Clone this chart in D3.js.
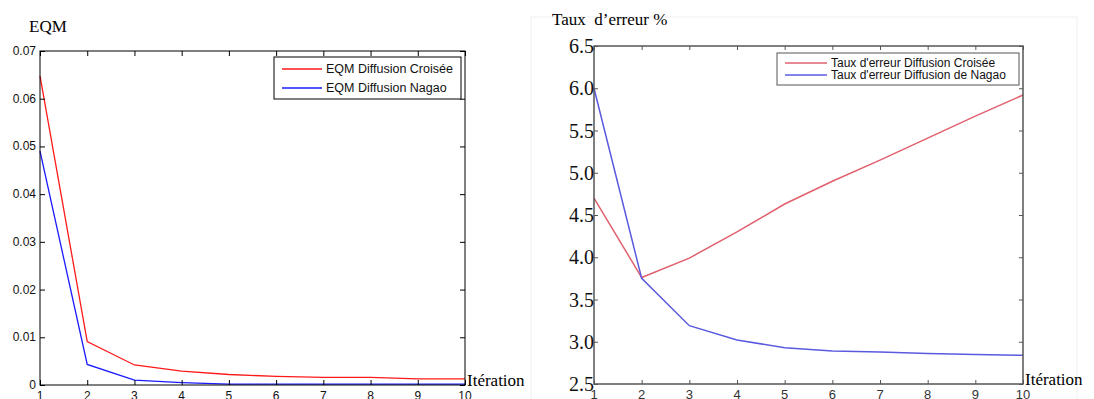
<!DOCTYPE html>
<html>
<head>
<meta charset="utf-8">
<script src="https://cdn.jsdelivr.net/npm/d3@7"></script>
<style>
  body { margin: 0; background: #fff; }
  svg { display: block; }
</style>
</head>
<body>
<div id="chart"></div>
<script>
// iterations shared by both panels
const iterations = [1, 2, 3, 4, 5, 6, 7, 8, 9, 10];

// left panel: EQM
const eqmCroisee = [0.0648, 0.0091, 0.0042, 0.0029, 0.0022, 0.0018, 0.0016, 0.0016, 0.0013, 0.0013];
const eqmNagao = [0.0490, 0.0043, 0.0010, 0.0005, 0.0002, 0.0002, 0.0002, 0.0002, 0.0002, 0.0002];
const eqmTicks = [0, 0.01, 0.02, 0.03, 0.04, 0.05, 0.06, 0.07];
const eqmTickLabels = ['0', '0.01', '0.02', '0.03', '0.04', '0.05', '0.06', '0.07'];

// right panel: taux d'erreur
const tauxCroisee = [4.70, 3.76, 3.99, 4.30, 4.63, 4.90, 5.15, 5.41, 5.67, 5.92];
const tauxNagao = [6.00, 3.75, 3.19, 3.02, 2.93, 2.89, 2.88, 2.86, 2.85, 2.84];
const tauxTicks = [2.5, 3.0, 3.5, 4.0, 4.5, 5.0, 5.5, 6.0, 6.5];
const tauxTickLabels = ['2.5', '3.0', '3.5', '4.0', '4.5', '5.0', '5.5', '6.0', '6.5'];

const W = 1094, H = 399;
const svg = d3.select('#chart').append('svg')
  .attr('width', W)
  .attr('height', H);

const sans = '"Liberation Sans", Arial, sans-serif';
const serif = '"Liberation Serif", "Times New Roman", serif';

function panel(opts) {
  const x = d3.scaleLinear().domain([1, 10]).range([opts.left, opts.right]);
  const y = d3.scaleLinear().domain(opts.yDomain).range([opts.bottom, opts.top]);
  const g = svg.append('g');
  const tk = opts.tickLen;

  // lines first, frame on top
  const line = d3.line().x((d, i) => x(iterations[i])).y(d => y(d));
  opts.series.forEach(s => {
    g.append('path')
      .datum(s.values)
      .attr('fill', 'none')
      .attr('stroke', s.color)
      .attr('stroke-width', s.width)
      .attr('d', line);
  });

  // inward ticks on the four sides, like a matlab box
  const axB = d3.axisBottom(x).tickValues(iterations).tickSize(-tk).tickFormat('');
  const axT = d3.axisTop(x).tickValues(iterations).tickSize(-tk).tickFormat('');
  const axL = d3.axisLeft(y).tickValues(opts.yTicks).tickSize(-tk).tickFormat('');
  const axR = d3.axisRight(y).tickValues(opts.yTicks).tickSize(-tk).tickFormat('');
  [[axB, `translate(0,${opts.bottom})`], [axT, `translate(0,${opts.top})`],
   [axL, `translate(${opts.left},0)`], [axR, `translate(${opts.right},0)`]].forEach(([ax, tr]) => {
    const a = g.append('g').attr('transform', tr).call(ax);
    a.select('.domain').remove();
    a.selectAll('line').attr('stroke', opts.frame);
  });
  g.append('rect')
    .attr('x', opts.left).attr('y', opts.top)
    .attr('width', opts.right - opts.left).attr('height', opts.bottom - opts.top)
    .attr('fill', 'none').attr('stroke', opts.frame).attr('stroke-width', opts.frameWidth);

  // tick labels
  g.selectAll('.ylab').data(opts.yTicks).enter().append('text')
    .attr('x', opts.left + opts.yLabDx)
    .attr('y', d => y(d) + opts.yLabDy)
    .attr('text-anchor', 'end')
    .attr('font-family', opts.yFont)
    .attr('font-size', opts.yFontSize)
    .attr('fill', '#111')
    .text((d, i) => opts.yLabels[i]);
  g.selectAll('.xlab').data(iterations).enter().append('text')
    .attr('x', d => x(d))
    .attr('y', opts.bottom + opts.xLabDy)
    .attr('text-anchor', 'middle')
    .attr('font-family', sans)
    .attr('font-size', opts.xFontSize)
    .attr('fill', opts.xColor)
    .text(d => d);

  // axis titles
  g.append('text')
    .attr('x', opts.titleX).attr('y', opts.titleY)
    .attr('font-family', serif).attr('font-size', 17).attr('fill', '#000')
    .attr('xml:space', 'preserve')
    .text(opts.title);
  g.append('text')
    .attr('x', opts.right + 2).attr('y', opts.bottom + 1)
    .attr('font-family', serif).attr('font-size', 17).attr('fill', '#000')
    .text('Itération');

  // legend
  const lg = opts.legend;
  g.append('rect')
    .attr('x', lg.x).attr('y', lg.y).attr('width', lg.w).attr('height', lg.h)
    .attr('fill', '#fff').attr('stroke', opts.frame).attr('stroke-width', 1);
  opts.series.forEach((s, i) => {
    const yy = lg.y + lg.row0 + i * lg.rowStep;
    g.append('line')
      .attr('x1', lg.x + 8).attr('x2', lg.x + 8 + lg.lineLen)
      .attr('y1', yy).attr('y2', yy)
      .attr('stroke', s.color).attr('stroke-width', s.width);
    g.append('text')
      .attr('x', lg.x + 12 + lg.lineLen).attr('y', yy + 4)
      .attr('font-family', sans).attr('font-size', lg.fontSize).attr('fill', '#111')
      .text(s.name);
  });
}

panel({
  left: 40, right: 465, top: 51, bottom: 385,
  yDomain: [0, 0.07], yTicks: eqmTicks, yLabels: eqmTickLabels,
  yFont: sans, yFontSize: 12, yLabDx: -4, yLabDy: 4, xLabDy: 15, xFontSize: 12, xColor: '#111',
  tickLen: 5, frame: '#000', frameWidth: 1,
  title: 'EQM', titleX: 29, titleY: 32,
  series: [
    { name: 'EQM Diffusion Croisée', values: eqmCroisee, color: '#ff1a1a', width: 1.3 },
    { name: 'EQM Diffusion Nagao', values: eqmNagao, color: '#1a1aff', width: 1.3 }
  ],
  legend: { x: 274, y: 57, w: 187, h: 42, row0: 12, rowStep: 19, lineLen: 40, fontSize: 12.5 }
});

// faint frame around the right figure (scanned image border)
svg.append('rect')
  .attr('x', 531).attr('y', 17).attr('width', 546).attr('height', 390)
  .attr('fill', 'none').attr('stroke', '#f0f0f0');

panel({
  left: 594, right: 1023, top: 46, bottom: 384,
  yDomain: [2.5, 6.5], yTicks: tauxTicks, yLabels: tauxTickLabels,
  yFont: serif, yFontSize: 20, yLabDx: 0, yLabDy: 7, xLabDy: 15, xFontSize: 13, xColor: '#333',
  tickLen: 4, frame: '#555', frameWidth: 1.5,
  title: 'Taux  d\u2019erreur %', titleX: 552, titleY: 25,
  series: [
    { name: 'Taux d\'erreur Diffusion Croisée', values: tauxCroisee, color: '#e0606e', width: 1.5 },
    { name: 'Taux d\'erreur Diffusion de Nagao', values: tauxNagao, color: '#5a5ae0', width: 1.5 }
  ],
  legend: { x: 777, y: 53, w: 242, h: 32, row0: 10, rowStep: 12, lineLen: 42, fontSize: 12 }
});
</script>
</body>
</html>
